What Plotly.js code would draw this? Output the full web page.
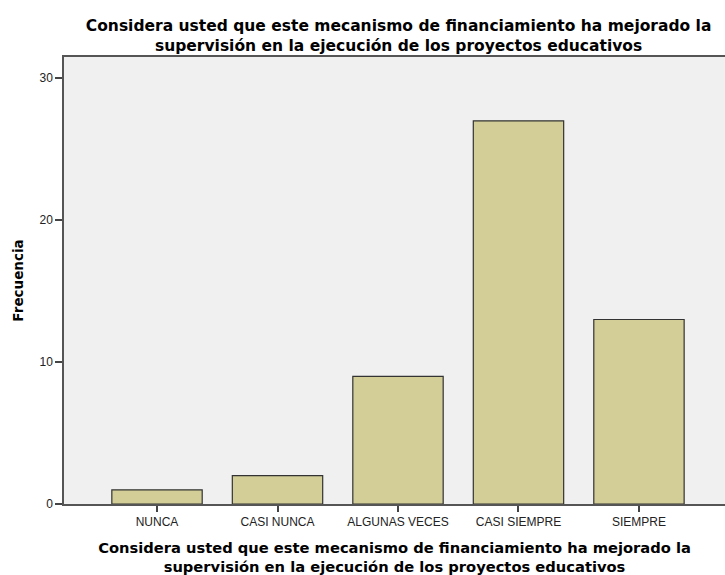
<!DOCTYPE html>
<html>
<head>
<meta charset="utf-8">
<script src="https://cdn.plot.ly/plotly-3.0.1.min.js"></script>
<style>
  body { margin: 0; background: #fff; }
  #myPlot { width: 725px; height: 575px; }
</style>
</head>
<body>
<div id="myPlot"></div>
<script>
const categorias = ["NUNCA", "CASI NUNCA", "ALGUNAS VECES", "CASI SIEMPRE", "SIEMPRE"];
const frecuencias = [1, 2, 9, 27, 13];
const yTicks = [0, 10, 20, 30];

const pregunta = "Considera usted que este mecanismo de financiamiento ha mejorado la<br>supervisión en la ejecución de los proyectos educativos";

const data = [{
  x: categorias,
  y: frecuencias,
  type: "bar",
  width: 0.75,
  marker: {color: "#d3ce97", line: {color: "#333333", width: 1.2}},
  hoverinfo: "x+y"
}];

const layout = {
  width: 725,
  height: 575,
  margin: {l: 64, r: 0, t: 57, b: 71},
  paper_bgcolor: "#ffffff",
  plot_bgcolor: "#f0f0f0",
  showlegend: false,
  title: {
    text: pregunta,
    font: {family: "DejaVu Sans", size: 15.5, color: "#000", weight: "bold"},
    x: 367 / 725, xanchor: "center", xref: "paper",
    y: 1 - 31 / 575, yanchor: "middle", yref: "container"
  },
  xaxis: {
    type: "category",
    range: [-0.772, 4.714],
    showgrid: false,
    zeroline: false,
    showline: true,
    mirror: true,
    linecolor: "#555555",
    linewidth: 1.5,
    ticks: "outside",
    ticklen: 6,
    tickcolor: "#444",
    tickwidth: 1.5,
    tickfont: {family: "Liberation Sans, Arial", size: 12, color: "#222"},
    title: {
      text: pregunta,
      font: {family: "DejaVu Sans", size: 14.7, color: "#000", weight: "bold"},
      standoff: 15
    }
  },
  yaxis: {
    range: [0, 31.5],
    tickvals: yTicks,
    showgrid: false,
    zeroline: false,
    showline: true,
    linecolor: "#555555",
    linewidth: 1.5,
    ticks: "outside",
    ticklen: 7,
    tickcolor: "#444",
    tickwidth: 1.5,
    tickfont: {family: "Liberation Sans, Arial", size: 12, color: "#222"},
    title: {
      text: "Frecuencia",
      font: {family: "DejaVu Sans", size: 13.5, color: "#000", weight: "bold"},
      standoff: 13
    }
  }
};

Plotly.newPlot("myPlot", data, layout, {displayModeBar: false});
</script>
</body>
</html>
